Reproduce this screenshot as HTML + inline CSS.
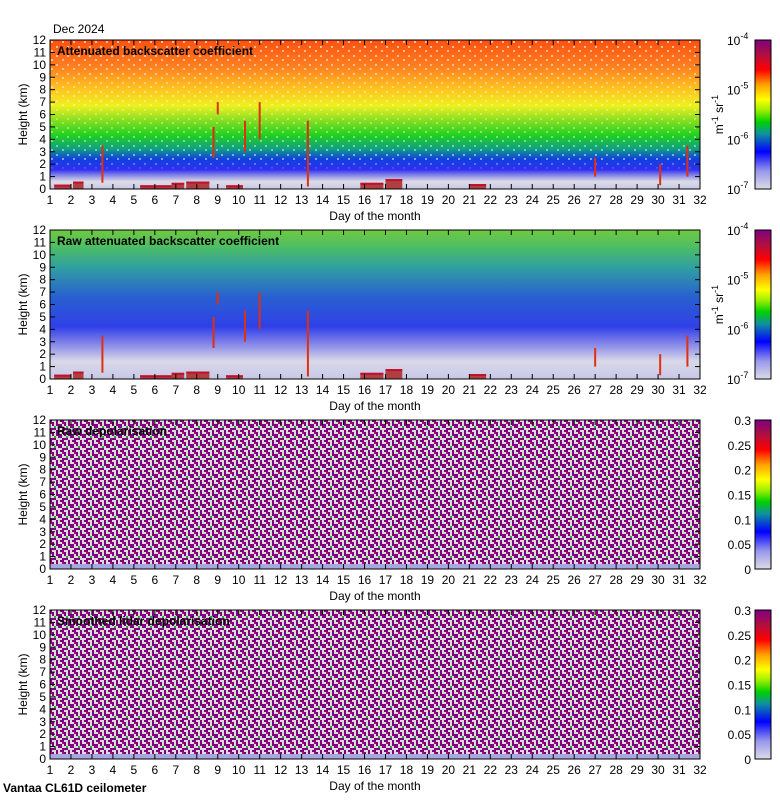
<!DOCTYPE html>
<html><head><meta charset="utf-8"><style>
body{margin:0;background:#fff;}
svg{display:block;font-family:"Liberation Sans",sans-serif;}
</style></head><body>
<svg id="chart" width="780" height="800" viewBox="0 0 780 800" xmlns="http://www.w3.org/2000/svg">
<defs>
<linearGradient id="gBack" x1="0" y1="1" x2="0" y2="0">
<stop offset="0" stop-color="#c8c8e8"/><stop offset="0.05" stop-color="#dcdce6"/><stop offset="0.09" stop-color="#8a8ae8"/>
<stop offset="0.13" stop-color="#3030f0"/><stop offset="0.2" stop-color="#1040e0"/><stop offset="0.27" stop-color="#10a080"/>
<stop offset="0.36" stop-color="#20d020"/><stop offset="0.47" stop-color="#90e020"/><stop offset="0.56" stop-color="#f0f020"/>
<stop offset="0.68" stop-color="#ffc020"/><stop offset="0.82" stop-color="#ff8020"/><stop offset="1" stop-color="#ff5010"/>
</linearGradient>
<linearGradient id="gRaw" x1="0" y1="1" x2="0" y2="0">
<stop offset="0" stop-color="#c8c8e8"/><stop offset="0.12" stop-color="#d8d8e8"/><stop offset="0.22" stop-color="#9090e8"/>
<stop offset="0.35" stop-color="#3040e8"/><stop offset="0.55" stop-color="#2860d0"/><stop offset="0.75" stop-color="#30a0a0"/>
<stop offset="0.9" stop-color="#50c060"/><stop offset="1" stop-color="#70c840"/>
</linearGradient>
<pattern id="pDepol" width="12" height="10" patternUnits="userSpaceOnUse">
<rect width="12" height="10" fill="#dcdcdc"/>
<rect x="0" y="0" width="4" height="2" fill="#800080"/><rect x="4" y="2" width="2" height="4" fill="#800080"/>
<rect x="0" y="4" width="2" height="4" fill="#800080"/><rect x="2" y="8" width="6" height="2" fill="#800080"/>
<rect x="8" y="0" width="2" height="4" fill="#800080"/><rect x="2" y="2" width="2" height="2" fill="#a01070"/>
<rect x="8" y="4" width="4" height="2" fill="#800080"/><rect x="10" y="6" width="2" height="2" fill="#800080"/>
<rect x="6" y="6" width="2" height="2" fill="#30a040"/>
</pattern>
<pattern id="pDots" width="11" height="9" patternUnits="userSpaceOnUse">
<rect x="1" y="1" width="2" height="2" fill="#fff"/><rect x="7" y="5" width="2" height="2" fill="#fff"/>
</pattern>
<linearGradient id="gDotsMask" x1="0" y1="1" x2="0" y2="0">
<stop offset="0" stop-color="#fff" stop-opacity="0"/><stop offset="0.12" stop-color="#fff" stop-opacity="0"/>
<stop offset="0.2" stop-color="#fff" stop-opacity="0.5"/><stop offset="0.5" stop-color="#fff" stop-opacity="0.3"/><stop offset="1" stop-color="#fff" stop-opacity="0.6"/>
</linearGradient>
<mask id="mDots"><rect x="0" y="0" width="780" height="800" fill="#000"/><rect x="50" y="40" width="650" height="149" fill="url(#gDotsMask)"/></mask>
<linearGradient id="gCbar" x1="0" y1="1" x2="0" y2="0">
<stop offset="0" stop-color="#dcdce6"/><stop offset="0.12" stop-color="#9898ec"/><stop offset="0.25" stop-color="#0000ff"/>
<stop offset="0.37" stop-color="#1090a0"/><stop offset="0.45" stop-color="#00d000"/><stop offset="0.53" stop-color="#a0f000"/>
<stop offset="0.6" stop-color="#ffff00"/><stop offset="0.7" stop-color="#ffa000"/><stop offset="0.8" stop-color="#ff0000"/>
<stop offset="0.9" stop-color="#b01040"/><stop offset="1" stop-color="#800080"/>
</linearGradient>
</defs>
<text x="53" y="33" font-size="12">Dec 2024</text>
<text x="3" y="792" font-size="12" font-weight="bold">Vantaa CL61D ceilometer</text>
<g id="panels"></g>
</svg>
<script>
const days = [1,2,3,4,5,6,7,8,9,10,11,12,13,14,15,16,17,18,19,20,21,22,23,24,25,26,27,28,29,30,31,32];
const heights = [0,1,2,3,4,5,6,7,8,9,10,11,12];
const titles = ["Attenuated backscatter coefficient","Raw attenuated backscatter coefficient","Raw depolarisation","Smoothed lidar depolarisation"];
const fills = ["url(#gBack)","url(#gRaw)","url(#pDepol)","url(#pDepol)"];
const logTicks = ["-7","-6","-5","-4"];
const depolTicks = ["0","0.05","0.1","0.15","0.2","0.25","0.3"];
// streaks: day, bottom km, top km
const streakDays = [3.5, 8.8, 9.0, 10.3, 11.0, 13.3, 27.0, 30.1, 31.4];
const streakBot = [0.5, 2.5, 6, 3, 4, 0.2, 1, 0.3, 1];
const streakTop = [3.5, 5, 7, 5.5, 7, 5.5, 2.5, 2, 3.5];
// low cloud blocks: start day, end day, top km
const lowStart = [1.2, 2.1, 5.3, 6.8, 7.5, 9.4, 15.8, 17.0, 21.0];
const lowEnd = [2.0, 2.6, 6.9, 7.4, 8.6, 10.2, 16.9, 17.8, 21.8];
const lowTop = [0.35, 0.6, 0.3, 0.5, 0.6, 0.3, 0.5, 0.8, 0.4];

const NS = "http://www.w3.org/2000/svg";
const g = document.getElementById('panels');
const X0 = 50, X1 = 700, H = 149;
const tops = [40, 230, 420, 610];
function xs(d){return X0 + (d-1)/31*(X1-X0);}
function mk(tag, attrs, parent){const e=document.createElementNS(NS,tag);for(const k in attrs)e.setAttribute(k,attrs[k]);(parent||g).appendChild(e);return e;}

tops.forEach((T, p) => {
  const ys = km => T + H - km/12*H;
  const pg = mk('g', {});
  
  
  const bg = mk('rect', {x:X0, y:T, width:X1-X0, height:H, fill:fills[p]}, pg);
  
  
  if (p === 0) {
    const dots = mk('rect', {x:X0, y:T, width:X1-X0, height:H, fill:'url(#pDots)', mask:'url(#mDots)'}, pg);
    
    
  }
  if (p < 2) {
    for (let i=0;i<streakDays.length;i++){
      const s = mk('rect', {x:xs(streakDays[i])-1, y:ys(streakTop[i]), width:2, height:ys(streakBot[i])-ys(streakTop[i]), fill:'#e03010'}, pg);
      
      
    }
    for (let i=0;i<lowStart.length;i++){
      const c = mk('rect', {x:xs(lowStart[i]), y:ys(lowTop[i]), width:xs(lowEnd[i])-xs(lowStart[i]), height:ys(0)-ys(lowTop[i]), fill:'#b04040'}, pg);
      
      
      const t = mk('rect', {x:xs(lowStart[i]), y:ys(lowTop[i]), width:xs(lowEnd[i])-xs(lowStart[i]), height:2, fill:'#c01030'}, pg);
      
      
    }
  } else {
    const bb = mk('rect', {x:X0, y:ys(0.4), width:X1-X0, height:ys(0)-ys(0.4), fill:'#a8a8e0'}, pg);
    
    
  }
  const fr = mk('rect', {x:X0, y:T, width:X1-X0, height:H, fill:'none', stroke:'#000', 'stroke-width':1}, pg);
  
  
  heights.forEach(h => {
    const y = ys(h);
    mk('line', {x1:X0, x2:X0+5, y1:y, y2:y, stroke:'#000'}, pg);
    mk('line', {x1:X1-5, x2:X1, y1:y, y2:y, stroke:'#000'}, pg);
    const lbl = mk('text', {x:X0-4, y:y+4, 'font-size':12, 'text-anchor':'end'}, pg);
    lbl.textContent = h;
    
    
  });
  days.forEach(d => {
    const x = xs(d);
    mk('line', {x1:x, x2:x, y1:T+H, y2:T+H-5, stroke:'#000'}, pg);
    mk('line', {x1:x, x2:x, y1:T, y2:T+5, stroke:'#000'}, pg);
    const lbl = mk('text', {x:x, y:T+H+15, 'font-size':12, 'text-anchor':'middle'}, pg);
    lbl.textContent = d;
    
    
  });
  const xt = mk('text', {x:375, y:T+H+31, 'font-size':12, 'text-anchor':'middle'}, pg);
  xt.textContent = 'Day of the month';
  
  
  const yt = mk('text', {x:0, y:0, 'font-size':12, 'text-anchor':'middle', transform:`translate(27,${T+H/2}) rotate(-90)`}, pg);
  yt.textContent = 'Height (km)';
  
  
  const tt = mk('text', {x:57, y:T+15, 'font-size':12, 'font-weight':'bold'}, pg);
  tt.textContent = titles[p];
  
  
  const cb = mk('rect', {x:755, y:T, width:16, height:H, fill:'url(#gCbar)', stroke:'#000'}, pg);
  
  
  if (p < 2) {
    logTicks.forEach((e, i) => {
      const y = T + H - i/(logTicks.length-1)*H;
      const t = mk('text', {x:727, y:y+5, 'font-size':12}, pg);
      t.textContent = '10';
      const s = mk('tspan', {dy:-6, 'font-size':9}, t);
      s.textContent = e;
      
      
    });
    const u = mk('text', {x:0, y:0, 'font-size':12, 'text-anchor':'middle', transform:`translate(723,${T+H/2}) rotate(-90)`}, pg);
    u.innerHTML = 'm<tspan dy="-5" font-size="9">-1</tspan><tspan dy="5"> sr</tspan><tspan dy="-5" font-size="9">-1</tspan>';
    
    
  } else {
    depolTicks.forEach((v, i) => {
      const y = T + H - i/(depolTicks.length-1)*H;
      const t = mk('text', {x:751, y:y+5, 'font-size':12, 'text-anchor':'end'}, pg);
      t.textContent = v;
      
      
    });
  }
});
</script>
</body></html>
